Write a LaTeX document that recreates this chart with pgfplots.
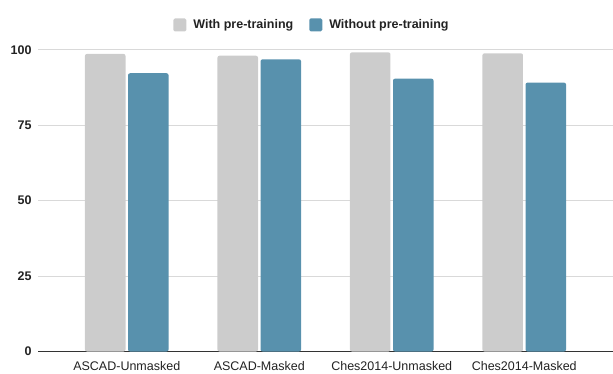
\documentclass[border=0pt]{standalone}
\usepackage{pgfplots}
\pgfplotsset{compat=1.18}
\usepackage{fontspec}
\setmainfont{Liberation Sans}

\definecolor{withpre}{HTML}{CCCCCC}
\definecolor{withoutpre}{HTML}{5891AD}
\definecolor{gridgray}{HTML}{D9D9D9}
\definecolor{axisdark}{HTML}{333333}
\definecolor{labeltext}{HTML}{222222}

\begin{document}
\begin{tikzpicture}[x=1bp,y=1bp]
  \path[use as bounding box] (0,0) rectangle (613,373);
  \begin{axis}[
    at={(38bp,21.5bp)}, anchor=south west,
    scale only axis,
    width=575bp, height=301.8bp,
    xmin=-0.67, xmax=3.67,
    ymin=0, ymax=100,
    xtick={0,1,2,3},
    xticklabels={ASCAD-Unmasked, ASCAD-Masked, Ches2014-Unmasked, Ches2014-Masked},
    ytick={0,25,50,75,100},
    major tick length=0pt,
    axis x line*=bottom,
    axis y line*=left,
    x axis line style={draw=axisdark, line width=1.1bp, -},
    y axis line style={draw=none},
    ymajorgrids,
    grid style={draw=gridgray, line width=0.9bp},
    /pgf/number format/assume math mode=true,
    ticklabel style={text=labeltext, font=\fontsize{12.5bp}{15bp}\selectfont},
    yticklabel style={font=\fontsize{12.5bp}{15bp}\selectfont\bfseries, xshift=-3bp},
    xticklabel style={yshift=-6bp},
    ybar, bar width=0.306,
    legend columns=2,
    legend style={at={(0.4765,1.082)}, anchor=center, draw=none, fill=none,
      font=\fontsize{12.5bp}{15bp}\selectfont\bfseries, text=labeltext,
      /tikz/every odd column/.append style={column sep=5bp},
      /tikz/every even column/.append style={column sep=14bp}},
    legend image code/.code={\fill[#1, rounded corners=1.5bp] (0bp,-6.5bp) rectangle (13bp,6.5bp);},
  ]
    % scores with pre-training
    \addplot[fill=withpre, draw=none, bar shift=-0.1625, rounded corners=2bp]
      coordinates {(0,98.6) (1,98.0) (2,99.1) (3,98.8)};
    % scores without pre-training
    \addplot[fill=withoutpre, draw=none, bar shift=0.1625, rounded corners=2bp]
      coordinates {(0,92.2) (1,96.8) (2,90.4) (3,89.1)};
    \legend{With pre-training, Without pre-training}
  \end{axis}
\end{tikzpicture}
\end{document}
